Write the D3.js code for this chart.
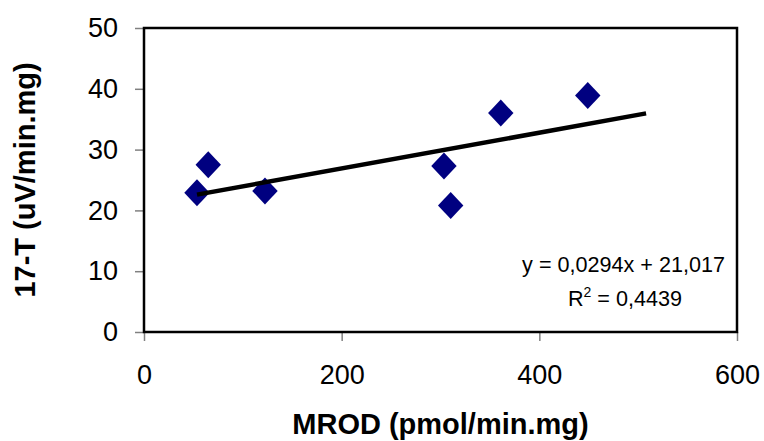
<!DOCTYPE html>
<html>
<head>
    <script src="https://d3js.org/d3.v7.min.js"></script>
    <style>
        body { margin: 0; background: #fff; }
        text { font-family: Arial, "Liberation Sans", sans-serif; fill: #000; }
        .axis .domain { display: none; }
        .axis .tick line { stroke: #808080; stroke-width: 1.5; }
        .axis .tick text { font-size: 27px; }
    </style>
</head>
<body>
<script>
// values
const mrod = [53.6, 65, 122.4, 303.5, 310.3, 361, 449];
const t17  = [22.9, 27.5, 23.2, 27.3, 20.8, 36.0, 38.9];
const xTicks = [0, 200, 400, 600];
const yTicks = [0, 10, 20, 30, 40, 50];
// linear trendline as printed on the chart
const slope = 0.0294, intercept = 21.017;
const trendRange = [53.6, 508];
const eqLines = ["y = 0,0294x + 21,017", "R", " = 0,4439"];

const width = 764, height = 441;
const plot = {left: 144, right: 737, top: 28, bottom: 332};

const svg = d3.select("body").append("svg")
    .attr("width", width)
    .attr("height", height);

const x = d3.scaleLinear().domain([0, 600]).range([plot.left, plot.right]);
const y = d3.scaleLinear().domain([0, 50]).range([plot.bottom, plot.top]);

svg.append("g")
    .attr("class", "axis")
    .attr("transform", `translate(${plot.left},0)`)
    .call(d3.axisLeft(y).tickValues(yTicks).tickSize(9).tickPadding(17).tickSizeOuter(0));

svg.append("g")
    .attr("class", "axis")
    .attr("transform", `translate(0,${plot.bottom})`)
    .call(d3.axisBottom(x).tickValues(xTicks).tickSize(9).tickPadding(24).tickSizeOuter(0));

// plot frame
svg.append("rect")
    .attr("x", plot.left)
    .attr("y", plot.top)
    .attr("width", plot.right - plot.left)
    .attr("height", plot.bottom - plot.top)
    .attr("fill", "none")
    .attr("stroke", "#000")
    .attr("stroke-width", 2.5);

// points
const data = mrod.map((d, i) => ({x: d, y: t17[i]}));
svg.append("g").selectAll("path")
    .data(data)
    .enter().append("path")
    .attr("transform", d => `translate(${x(d.x)},${y(d.y)})`)
    .attr("d", "M0,-13.5L12.7,0L0,13.5L-12.7,0Z")
    .attr("fill", "#000080");

// trendline
svg.append("line")
    .attr("x1", x(trendRange[0]))
    .attr("y1", y(slope * trendRange[0] + intercept))
    .attr("x2", x(trendRange[1]))
    .attr("y2", y(slope * trendRange[1] + intercept))
    .attr("stroke", "#000")
    .attr("stroke-width", 4.5);

// equation
svg.append("text")
    .attr("x", 725).attr("y", 272)
    .attr("text-anchor", "end")
    .style("font-size", "21.6px")
    .text(eqLines[0]);
const r2 = svg.append("text")
    .attr("x", 625).attr("y", 306)
    .attr("text-anchor", "middle")
    .style("font-size", "21.6px");
r2.append("tspan").text(eqLines[1]);
r2.append("tspan").attr("dy", -9).style("font-size", "14px").text("2");
r2.append("tspan").attr("dy", 9).text(eqLines[2]);

// axis titles
svg.append("text")
    .attr("x", (plot.left + plot.right) / 2)
    .attr("y", 434)
    .attr("text-anchor", "middle")
    .style("font-size", "29px")
    .style("font-weight", "bold")
    .text("MROD (pmol/min.mg)");

svg.append("text")
    .attr("transform", `translate(35,${(plot.top + plot.bottom) / 2}) rotate(-90)`)
    .attr("text-anchor", "middle")
    .style("font-size", "29px")
    .style("font-weight", "bold")
    .text("17-T (uV/min.mg)");
</script>
</body>
</html>
